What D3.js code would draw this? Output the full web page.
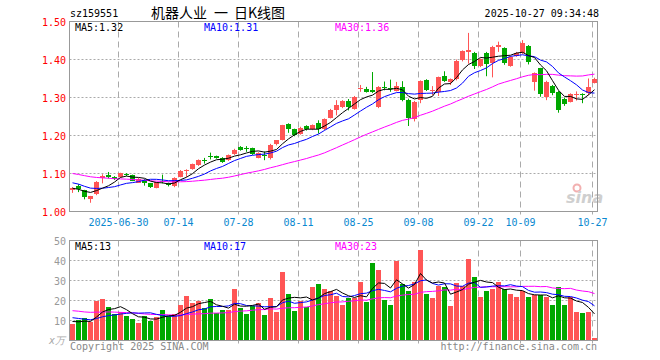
<!DOCTYPE html>
<html>
<head>
<meta charset="utf-8">
<title>sz159551 日K线图</title>
<script src="https://cdnjs.cloudflare.com/ajax/libs/d3/7.8.5/d3.min.js"></script>
<style>
    body { margin: 0; background: #fff; }
    svg text { font-family: "DejaVu Sans Mono", "Liberation Mono", monospace; font-size: 10px; }
</style>
</head>
<body>
<div id="chart"></div>
<script>
//------------------------------------DATA----------------------------------------
var dates = [
    "2025-06-18","2025-06-19","2025-06-20","2025-06-23","2025-06-24","2025-06-25","2025-06-26","2025-06-27","2025-06-30",
    "2025-07-01","2025-07-02","2025-07-03","2025-07-04","2025-07-07","2025-07-08","2025-07-09","2025-07-10","2025-07-11",
    "2025-07-14","2025-07-15","2025-07-16","2025-07-17","2025-07-18","2025-07-21","2025-07-22","2025-07-23","2025-07-24",
    "2025-07-25","2025-07-28","2025-07-29","2025-07-30","2025-07-31","2025-08-01","2025-08-04","2025-08-05","2025-08-06",
    "2025-08-07","2025-08-08","2025-08-11","2025-08-12","2025-08-13","2025-08-14","2025-08-15","2025-08-18","2025-08-19",
    "2025-08-20","2025-08-21","2025-08-22","2025-08-25","2025-08-26","2025-08-27","2025-08-28","2025-08-29","2025-09-01",
    "2025-09-02","2025-09-03","2025-09-04","2025-09-05","2025-09-08","2025-09-09","2025-09-10","2025-09-11","2025-09-12",
    "2025-09-15","2025-09-16","2025-09-17","2025-09-18","2025-09-19","2025-09-22","2025-09-23","2025-09-24","2025-09-25",
    "2025-09-26","2025-09-29","2025-09-30","2025-10-09","2025-10-10","2025-10-13","2025-10-14","2025-10-15","2025-10-16",
    "2025-10-17","2025-10-20","2025-10-21","2025-10-22","2025-10-23","2025-10-24","2025-10-27"
];

var open = [
    1.056,1.066,1.056,1.033,1.046,1.089,1.097,1.090,1.091,1.098,1.095,1.076,1.083,1.074,1.063,1.079,1.075,1.067,
    1.091,1.107,1.111,1.122,1.136,1.147,1.146,1.142,1.135,1.151,1.169,1.167,1.166,1.142,1.149,1.140,1.177,1.188,
    1.230,1.216,1.205,1.225,1.216,1.232,1.216,1.247,1.268,1.274,1.290,1.271,1.323,1.323,1.321,1.275,1.327,1.326,
    1.318,1.328,1.293,1.244,1.293,1.346,1.317,1.315,1.356,1.340,1.348,1.398,1.420,1.418,1.383,1.416,1.392,1.433,
    1.431,1.383,1.409,1.416,1.436,1.342,1.377,1.302,1.329,1.315,1.295,1.289,1.308,1.308,1.311,1.339
];
var high = [
    1.064,1.072,1.057,1.041,1.080,1.098,1.104,1.093,1.102,1.101,1.097,1.088,1.085,1.075,1.078,1.097,1.076,1.090,
    1.109,1.111,1.126,1.137,1.141,1.155,1.147,1.143,1.150,1.165,1.172,1.172,1.168,1.156,1.158,1.178,1.188,1.228,
    1.232,1.218,1.223,1.227,1.229,1.240,1.245,1.270,1.293,1.293,1.296,1.304,1.333,1.328,1.367,1.330,1.342,1.347,
    1.341,1.343,1.297,1.291,1.345,1.348,1.330,1.355,1.369,1.350,1.400,1.424,1.470,1.420,1.403,1.420,1.436,1.447,
    1.432,1.409,1.420,1.451,1.438,1.366,1.378,1.344,1.333,1.317,1.300,1.311,1.316,1.311,1.350,1.352
];
var low = [
    1.049,1.051,1.032,1.023,1.043,1.074,1.087,1.083,1.089,1.093,1.080,1.076,1.068,1.062,1.061,1.074,1.066,1.064,
    1.090,1.091,1.110,1.120,1.126,1.137,1.139,1.128,1.133,1.149,1.160,1.157,1.149,1.140,1.135,1.137,1.174,1.187,
    1.207,1.198,1.202,1.213,1.214,1.205,1.214,1.245,1.253,1.272,1.266,1.268,1.315,1.313,1.312,1.272,1.319,1.315,
    1.316,1.290,1.225,1.237,1.285,1.317,1.306,1.304,1.341,1.333,1.345,1.395,1.389,1.375,1.380,1.356,1.353,1.420,
    1.386,1.381,1.407,1.414,1.387,1.318,1.302,1.293,1.306,1.260,1.278,1.287,1.292,1.285,1.306,1.337
];
var close = [
    1.062,1.058,1.037,1.040,1.078,1.094,1.090,1.085,1.101,1.096,1.081,1.085,1.074,1.064,1.077,1.077,1.070,1.087,
    1.107,1.110,1.124,1.135,1.135,1.146,1.141,1.131,1.148,1.163,1.163,1.165,1.152,1.154,1.147,1.176,1.187,1.227,
    1.218,1.201,1.221,1.216,1.227,1.218,1.243,1.268,1.280,1.291,1.274,1.302,1.325,1.315,1.315,1.328,1.325,1.324,
    1.330,1.293,1.245,1.289,1.343,1.319,1.320,1.353,1.343,1.348,1.397,1.422,1.424,1.383,1.401,1.389,1.433,1.437,
    1.390,1.407,1.418,1.443,1.394,1.364,1.309,1.342,1.313,1.267,1.283,1.309,1.310,1.306,1.327,1.350
];
// volume, 万手
var volume = [
    8.25,10.25,11.1,9.25,19.75,20.75,16.6,13.25,14.25,12.25,10.75,8.75,12.25,9.9,11.9,15.25,12.4,13.25,
    17.75,22.25,18.9,19.9,16.1,20.75,13.6,15.25,15.25,25.75,16.2,13.25,17.25,18.6,12.75,21.25,14.4,34.25,
    23.25,14.75,19.9,16.6,26.75,28.25,25.75,24.75,22.25,17.75,21.4,21.4,29.25,19.25,38.75,35.25,20.25,17.75,
    39.75,28.5,24.75,29.25,45.25,23.25,21.25,27.25,26.75,17.25,28.75,27.25,40.75,31.75,21.75,24.75,25.75,29.25,
    25.75,23.25,21.75,24.75,21.75,22.75,22.75,21.75,17.75,26.75,17.75,22,14.5,14,14.5,1.5
];

// sessions before 06-18 (estimated from where the MA lines start at the left edge)
var preClose = [
    1.135,1.130,1.128,1.132,1.125,1.120,1.122,1.118,1.115,1.110,1.112,1.108,1.105,1.100,1.102,
    1.098,1.095,1.100,1.096,1.094,1.092,1.095,1.088,1.086,1.088,1.072,1.063,1.055,1.054
];
var preVolume = [
    18,22,15,17,20,14,16,19,15,13,18,21,16,14,17,
    15,19,16,13,15,14,15,12,13.5,12,11,9.5,10,8.75
];

var tickDates = ["2025-06-30","2025-07-14","2025-07-28","2025-08-11","2025-08-25",
                 "2025-09-08","2025-09-22","2025-10-09","2025-10-27"];
var priceTicks = [1.0, 1.1, 1.2, 1.3, 1.4, 1.5];
var volTicks = [10, 20, 30, 40, 50];

//------------------------------------HELPERS---------------------------------------
function movingAvg(pre, vals, n) {
    var all = pre.concat(vals);
    return vals.map(function (v, i) {
        var end = pre.length + i;
        return d3.mean(all.slice(end - n + 1, end + 1));
    });
}
var RED = "#ff5555", GREEN = "#00a800";
function candleColor(i) { return close[i] >= open[i] ? RED : GREEN; }

var ma5 = movingAvg(preClose, close, 5),
    ma10 = movingAvg(preClose, close, 10),
    ma30 = movingAvg(preClose, close, 30);
var vma5 = movingAvg(preVolume, volume, 5),
    vma10 = movingAvg(preVolume, volume, 10),
    vma30 = movingAvg(preVolume, volume, 30);

//------------------------------------MAKES THE BOX--------------------------
var W = 660, H = 360;
var left = 69.5, right = 597.5;
var svg = d3.select("#chart").append("svg")
    .attr("width", W)
    .attr("height", H);

var x = d3.scaleBand().domain(dates).range([70, 598]);
var cx = function (i) { return x(dates[i]) + 2.5; };
var yP = d3.scaleLinear().domain([1.0, 1.5]).range([211.5, 21.5]);
var yV = d3.scaleLinear().domain([0, 50]).range([340.5, 240.5]);

//------------------------------------HEADER----------------------------------------
svg.append("text").attr("x", 70).attr("y", 17).text("sz159551");
// title pieces, spaced like the original
var titleParts = [{ x: 151, t: "机器人业" }, { x: 214, t: "一" }, { x: 234, t: "日K线图" }];
svg.append("g").selectAll("text")
    .data(titleParts).enter().append("text")
    .attr("x", function (d) { return d.x; }).attr("y", 18)
    .style("font-family", "'Noto Sans CJK SC', sans-serif").style("font-size", "14px")
    .text(function (d) { return d.t; });
svg.append("text").attr("x", 599).attr("y", 17).attr("text-anchor", "end")
    .text("2025-10-27 09:34:48");

//------------------------------------GRIDS-----------------------------------------
function drawGrid(top, bottom, yScale, ticks) {
    svg.append("g").selectAll("line")
        .data(ticks.filter(function (t) { return yScale(t) > top + 1 && yScale(t) < bottom - 1; }))
        .enter().append("line")
        .attr("x1", left).attr("x2", right)
        .attr("y1", function (t) { return yScale(t); })
        .attr("y2", function (t) { return yScale(t); })
        .attr("stroke", "#aaa").attr("stroke-dasharray", "2,2");
    svg.append("g").selectAll("line")
        .data(tickDates)
        .enter().append("line")
        .attr("x1", function (d) { return x(d) + 0.5; })
        .attr("x2", function (d) { return x(d) + 0.5; })
        .attr("y1", top).attr("y2", bottom + 3)
        .attr("stroke", "#aaa").attr("stroke-dasharray", "6,4");
}
drawGrid(21.5, 211.5, yP, priceTicks);
drawGrid(240.5, 340.5, yV, volTicks);

// sina watermark
svg.append("circle").attr("cx", 577).attr("cy", 188).attr("r", 3.5)
    .attr("fill", "none").attr("stroke", "#f2b0b0").attr("stroke-width", 2);
svg.append("text").attr("x", 566).attr("y", 203)
    .style("font-family", "'DejaVu Sans', sans-serif").style("font-size", "16px")
    .style("font-style", "italic").style("font-weight", "bold")
    .attr("fill", "#cfcfcf").text("sina");

//------------------------------------CANDLES---------------------------------------
var idx = d3.range(dates.length);
var candles = svg.append("g");
candles.selectAll("line")
    .data(idx).enter().append("line")
    .attr("x1", cx).attr("x2", cx)
    .attr("y1", function (i) { return yP(high[i]); })
    .attr("y2", function (i) { return yP(low[i]); })
    .attr("stroke", candleColor);
candles.selectAll("rect")
    .data(idx).enter().append("rect")
    .attr("x", function (i) { return x(dates[i]); })
    .attr("width", 5)
    .attr("y", function (i) { return yP(Math.max(open[i], close[i])); })
    .attr("height", function (i) { return Math.max(1, Math.abs(yP(open[i]) - yP(close[i]))); })
    .attr("fill", candleColor)
    .attr("shape-rendering", "crispEdges");

//------------------------------------VOLUME BARS-----------------------------------
svg.append("g").selectAll("rect")
    .data(idx).enter().append("rect")
    .attr("x", function (i) { return x(dates[i]); })
    .attr("width", 5)
    .attr("y", function (i) { return yV(volume[i]); })
    .attr("height", function (i) { return 340 - yV(volume[i]); })
    .attr("fill", candleColor)
    .attr("shape-rendering", "crispEdges");

//------------------------------------MA LINES--------------------------------------
function drawLine(vals, yScale, color) {
    svg.append("path")
        .datum(idx)
        .attr("d", d3.line().x(cx).y(function (i) { return yScale(vals[i]); }))
        .attr("fill", "none").attr("stroke", color).attr("stroke-width", 1);
}
drawLine(ma30, yP, "#ff00ff");
drawLine(ma10, yP, "#0000ff");
drawLine(ma5, yP, "#000000");
drawLine(vma30, yV, "#ff00ff");
drawLine(vma10, yV, "#0000ff");
drawLine(vma5, yV, "#000000");

//------------------------------------FRAMES----------------------------------------
svg.append("rect").attr("x", left).attr("y", 21.5).attr("width", right - left).attr("height", 190)
    .attr("fill", "none").attr("stroke", "#999");
svg.append("rect").attr("x", left).attr("y", 240.5).attr("width", right - left).attr("height", 100)
    .attr("fill", "none").attr("stroke", "#999");

//------------------------------------LABELS----------------------------------------
svg.append("g").selectAll("text")
    .data(priceTicks).enter().append("text")
    .attr("x", 66).attr("y", function (t) { return yP(t) + 4; })
    .attr("text-anchor", "end").attr("fill", "#ff0000")
    .text(function (t) { return t.toFixed(2); });
svg.append("g").selectAll("text")
    .data(volTicks).enter().append("text")
    .attr("x", 66).attr("y", function (t) { return yV(t) + 4; })
    .attr("text-anchor", "end").attr("fill", "#999")
    .text(function (t) { return t; });
svg.append("text").attr("x", 49).attr("y", 344).attr("fill", "#aaa")
    .style("font-style", "italic").text("x万");

svg.append("g").selectAll("text")
    .data(tickDates).enter().append("text")
    .attr("x", function (d) { return x(d) + 0.5; })
    .attr("y", 226)
    .attr("text-anchor", "middle").attr("fill", "#0a88d0")
    .text(function (d, i) { return i === 0 ? d : d.slice(5); });

var last = dates.length - 1;
var legends = [
    { x: 75, y: 31, t: "MA5:" + ma5[last].toFixed(2), c: "#000" },
    { x: 204, y: 31, t: "MA10:" + ma10[last].toFixed(2), c: "#0000ff" },
    { x: 335, y: 31, t: "MA30:" + ma30[last].toFixed(2), c: "#ff00ff" },
    { x: 75, y: 250, t: "MA5:" + Math.round(vma5[last]), c: "#000" },
    { x: 204, y: 250, t: "MA10:" + Math.round(vma10[last]), c: "#0000ff" },
    { x: 335, y: 250, t: "MA30:" + Math.round(vma30[last]), c: "#ff00ff" }
];
svg.append("g").selectAll("text")
    .data(legends).enter().append("text")
    .attr("x", function (d) { return d.x; })
    .attr("y", function (d) { return d.y; })
    .attr("fill", function (d) { return d.c; })
    .text(function (d) { return d.t; });

svg.append("text").attr("x", 70).attr("y", 350).attr("fill", "#888")
    .text("Copyright 2025 SINA.COM");
svg.append("text").attr("x", 597).attr("y", 350).attr("text-anchor", "end").attr("fill", "#888")
    .text("http://finance.sina.com.cn");
</script>
</body>
</html>
